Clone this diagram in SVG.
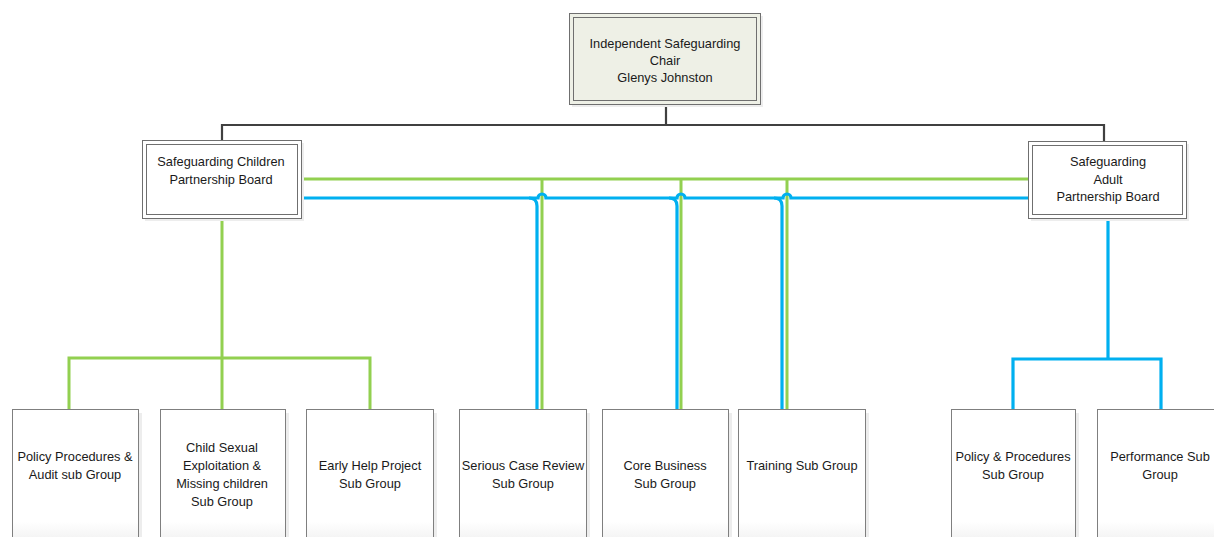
<svg xmlns="http://www.w3.org/2000/svg" width="1214" height="537" viewBox="0 0 1214 537">
<defs>
<linearGradient id="fade" x1="0" y1="0" x2="0" y2="1">
<stop offset="0" stop-color="#ffffff"/>
<stop offset="0.8" stop-color="#ffffff"/>
<stop offset="1" stop-color="#ececec"/>
</linearGradient>
</defs>
<style>
.t{font-family:"Liberation Sans",Arial,sans-serif;font-size:12.8px;fill:#1a1a1a;text-anchor:middle}
.box{fill:url(#fade);stroke:#7f7f7f;stroke-width:1}
.shadow{fill:#ededed}
.outer{fill:#ffffff;stroke:#6f6f6f;stroke-width:1}
.inner{fill:none;stroke:#6f6f6f;stroke-width:1}
.blk{fill:none;stroke:#404040;stroke-width:2.2}
.g{fill:none;stroke:#92d050;stroke-width:3}
.b{fill:none;stroke:#00b0f0;stroke-width:3.2}
</style>
<rect width="1214" height="537" fill="#ffffff"/>

<g id="connectors">
<path class="blk" d="M666,104 V125 H222 V140 M666,125 H1104 V141"/>
<path class="g" d="M302,179 H1028"/>
<path class="g" d="M542,179 V409 M681,179 V409 M787,179 V409"/>
<path class="b" d="M302,198 H538 a4,4 0 0 1 8,0 H677 a4,4 0 0 1 8,0 H783 a4,4 0 0 1 8,0 H1031"/>
<path class="b" d="M529,198 Q537,198 537,206 V409 M669,198 Q677,198 677,206 V409 M774,198 Q782,198 782,206 V409"/>
<path class="g" d="M222,219 V358 M69,409 V358 H370 V409 M222,358 V409"/>
<path class="b" d="M1108,219 V359 M1013,409 V359 H1161 V409"/>
</g>

<g id="chair">
<rect x="572" y="16" width="191" height="91" class="shadow"/>
<rect x="569.5" y="13.5" width="191" height="91" fill="#eef0e6" stroke="#6f6f6f"/>
<rect x="573.5" y="17.5" width="183" height="83" class="inner"/>
<text class="t"><tspan x="665" y="48">Independent Safeguarding</tspan><tspan x="665" y="65">Chair</tspan><tspan x="665" y="82">Glenys Johnston</tspan></text>
</g>

<g id="children-board">
<rect x="145" y="143" width="159" height="78" class="shadow"/>
<rect x="142.5" y="140.5" width="159" height="78" class="outer"/>
<rect x="146.5" y="144.5" width="151" height="70" class="inner"/>
<text class="t"><tspan x="221" y="166">Safeguarding Children</tspan><tspan x="221" y="184">Partnership Board</tspan></text>
</g>

<g id="adult-board">
<rect x="1031" y="144" width="158" height="77" class="shadow"/>
<rect x="1028.5" y="141.5" width="158" height="77" class="outer"/>
<rect x="1032.5" y="145.5" width="150" height="69" class="inner"/>
<text class="t"><tspan x="1108" y="166">Safeguarding</tspan><tspan x="1108" y="184">Adult</tspan><tspan x="1108" y="201">Partnership Board</tspan></text>
</g>

<g id="policy-audit">
<rect x="139" y="413" width="3" height="130" class="shadow"/>
<rect x="12.5" y="409.5" width="126" height="140" class="box"/>
<text class="t"><tspan x="75" y="461">Policy Procedures &amp;</tspan><tspan x="75" y="479">Audit sub Group</tspan></text>
</g>

<g id="cse">
<rect x="286" y="413" width="3" height="130" class="shadow"/>
<rect x="160.5" y="409.5" width="125" height="140" class="box"/>
<text class="t"><tspan x="222" y="452">Child Sexual</tspan><tspan x="222" y="470">Exploitation &amp;</tspan><tspan x="222" y="488">Missing children</tspan><tspan x="222" y="506">Sub Group</tspan></text>
</g>

<g id="early-help">
<rect x="434" y="413" width="3" height="130" class="shadow"/>
<rect x="306.5" y="409.5" width="127" height="140" class="box"/>
<text class="t"><tspan x="370" y="470">Early Help Project</tspan><tspan x="370" y="488">Sub Group</tspan></text>
</g>

<g id="scr">
<rect x="587" y="413" width="3" height="130" class="shadow"/>
<rect x="459.5" y="409.5" width="127" height="140" class="box"/>
<text class="t"><tspan x="523" y="470">Serious Case Review</tspan><tspan x="523" y="488">Sub Group</tspan></text>
</g>

<g id="core-business">
<rect x="729" y="413" width="3" height="130" class="shadow"/>
<rect x="602.5" y="409.5" width="126" height="140" class="box"/>
<text class="t"><tspan x="665" y="470">Core Business</tspan><tspan x="665" y="488">Sub Group</tspan></text>
</g>

<g id="training">
<rect x="866" y="413" width="3" height="130" class="shadow"/>
<rect x="738.5" y="409.5" width="127" height="140" class="box"/>
<text class="t"><tspan x="802" y="470">Training Sub Group</tspan></text>
</g>

<g id="policy-procedures">
<rect x="1076" y="413" width="3" height="130" class="shadow"/>
<rect x="951.5" y="409.5" width="124" height="140" class="box"/>
<text class="t"><tspan x="1013" y="461">Policy &amp; Procedures</tspan><tspan x="1013" y="479">Sub Group</tspan></text>
</g>

<g id="performance">
<rect x="1097.5" y="409.5" width="126" height="140" class="box"/>
<text class="t"><tspan x="1160" y="461">Performance Sub</tspan><tspan x="1160" y="479">Group</tspan></text>
</g>
</svg>
